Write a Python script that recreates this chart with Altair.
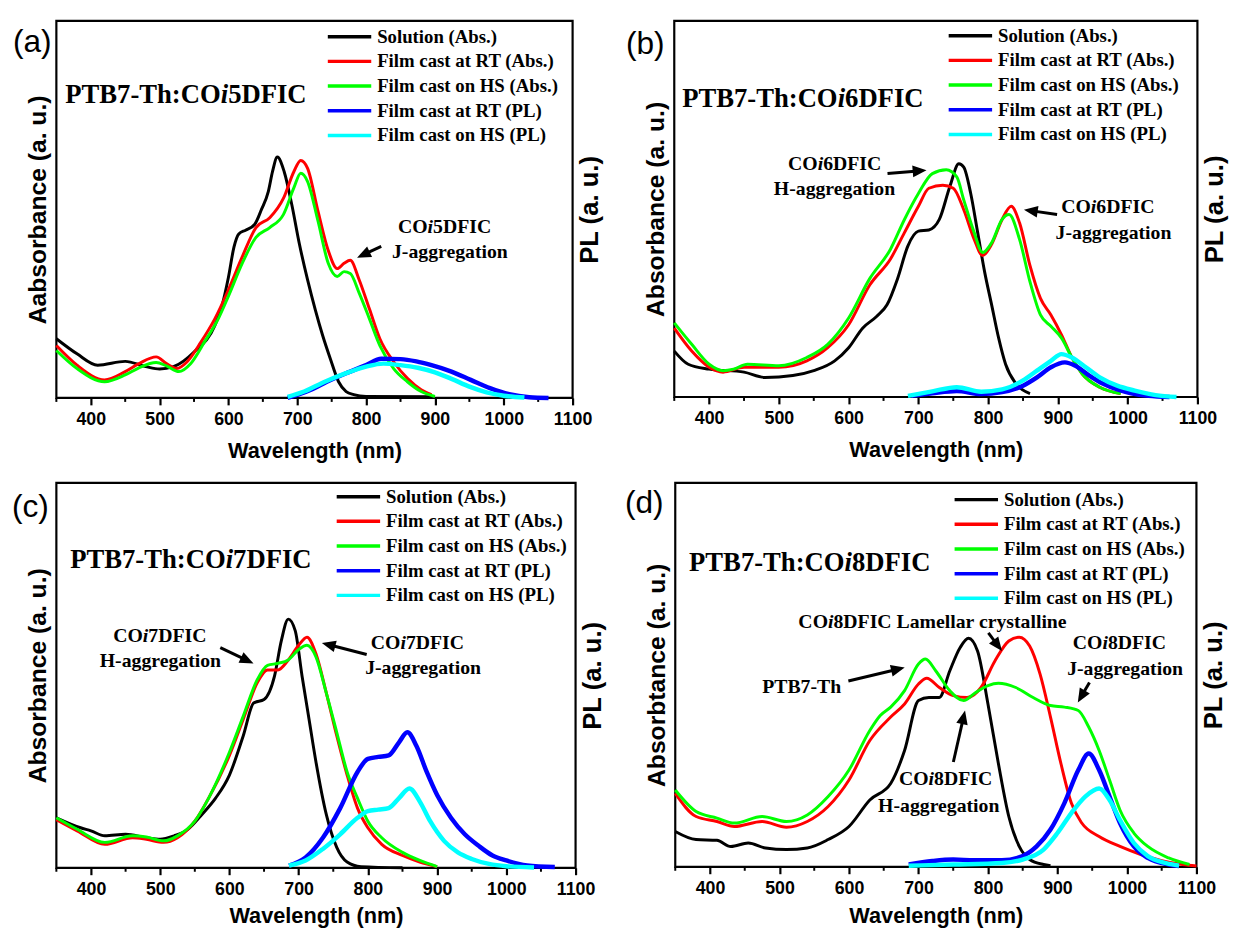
import math
import altair as alt
import pandas as pd

# ---------------- data ----------------
SERIES = ["Solution (Abs.)", "Film cast at RT (Abs.)", "Film cast on HS (Abs.)",
          "Film cast at RT (PL)", "Film cast on HS (PL)"]
COLORS = ["#000000", "#ff0000", "#00ff00", "#0000ff", "#00ffff"]
MAJOR_TICKS = [400, 500, 600, 700, 800, 900, 1000, 1100]
MINOR_TICKS = [350, 450, 550, 650, 750, 850, 950, 1050]

# panel (a)  (wavelength nm, relative intensity 0-100 of frame height)
A_SOLUTION = [(350, 15.7), (380, 11.7), (410, 8.7), (450, 9.7), (480, 8.3), (500, 7.7), (520, 8.3),
              (550, 12.2), (580, 19.1), (590, 24.0), (600, 32.0), (608, 40.0), (615, 43.5), (625, 44.5),
              (638, 46.0), (648, 50.0), (658, 54.8), (664, 60.0), (671, 63.9), (681, 60.0), (692, 51.3),
              (703, 40.9), (715, 31.3), (726, 23.5), (737, 16.5), (748, 10.4), (760, 4.3), (771, 1.7),
              (782, 0.9), (800, 0.4), (900, 0.3)]
A_FILM_RT = [(350, 13.9), (380, 8.7), (420, 4.8), (450, 7.0), (470, 9.1), (495, 10.9), (510, 9.1),
             (525, 7.8), (540, 9.6), (560, 14.8), (580, 20.9), (600, 28.7), (620, 37.4), (640, 45.2),
             (660, 47.8), (680, 53.0), (695, 60.0), (705, 63.0), (715, 60.9), (730, 49.6), (745, 39.1),
             (758, 34.3), (768, 35.7), (777, 36.5), (790, 31.3), (805, 23.5), (820, 15.7), (840, 9.6),
             (860, 5.2), (880, 2.2), (895, 0.9)]
A_FILM_HS = [(350, 12.6), (380, 7.8), (420, 4.3), (450, 6.1), (470, 8.0), (495, 9.4), (510, 8.5),
             (528, 7.0), (545, 9.1), (565, 14.8), (585, 20.9), (600, 27.0), (620, 35.7), (640, 42.6),
             (660, 45.2), (680, 48.7), (695, 55.7), (705, 59.6), (715, 57.4), (730, 47.0), (745, 35.7),
             (758, 32.2), (768, 33.5), (777, 33.0), (790, 27.8), (805, 20.9), (820, 13.9), (840, 7.8),
             (860, 4.3), (880, 1.7), (900, 0.4)]
A_PL_RT = [(686, 0.0), (700, 0.8), (720, 2.2), (743, 4.3), (770, 6.5), (800, 8.7), (822, 10.4),
           (850, 10.3), (873, 9.7), (895, 8.7), (924, 7.0), (952, 4.8), (980, 2.6), (1008, 1.0),
           (1037, 0.2), (1065, 0.0)]
A_PL_HS = [(686, 0.3), (710, 1.7), (740, 4.3), (770, 6.5), (800, 8.3), (825, 9.1), (850, 8.7),
           (875, 8.0), (900, 6.8), (925, 5.0), (950, 3.0), (975, 1.5), (1000, 0.6), (1030, 0.1)]

# panel (b)
B_SOLUTION = [(350, 12.2), (370, 8.7), (400, 7.4), (450, 6.6), (480, 5.2), (520, 5.7), (550, 7.0),
              (580, 9.6), (600, 13.1), (620, 18.3), (640, 21.4), (655, 24.5), (670, 31.4), (685, 40.2),
              (700, 44.1), (715, 44.4), (730, 47.2), (745, 55.9), (758, 62.0), (765, 61.1), (775, 54.1),
              (785, 43.7), (795, 33.2), (805, 24.5), (815, 15.7), (825, 8.7), (840, 3.5), (860, 0.9)]
B_FILM_RT = [(350, 18.3), (375, 12.2), (400, 7.9), (420, 6.6), (450, 7.9), (500, 7.9), (540, 9.6),
             (570, 13.1), (600, 19.2), (630, 29.7), (660, 36.7), (680, 43.7), (700, 50.7), (715, 55.5),
             (735, 56.3), (750, 55.5), (765, 49.8), (780, 41.9), (792, 37.6), (805, 40.6), (820, 47.2),
             (833, 50.7), (845, 46.3), (860, 34.9), (875, 26.2), (890, 21.8), (905, 16.6), (920, 10.5),
             (935, 6.1), (960, 2.6), (990, 0.9)]
B_FILM_HS = [(350, 19.7), (375, 14.0), (400, 8.7), (420, 7.0), (435, 7.4), (455, 8.7), (500, 8.3),
             (540, 10.5), (570, 14.0), (600, 21.0), (630, 31.4), (660, 39.3), (680, 47.2), (700, 54.1),
             (720, 59.4), (740, 60.4), (755, 58.5), (765, 52.4), (780, 43.7), (792, 38.4), (805, 41.0),
             (820, 47.2), (830, 48.5), (845, 41.9), (860, 30.6), (875, 21.8), (890, 18.8), (905, 15.7),
             (920, 10.5), (935, 6.1), (960, 2.6), (990, 0.9)]
B_PL_RT = [(690, 0.3), (720, 1.0), (755, 1.6), (790, 0.8), (820, 1.3), (850, 3.0), (870, 5.2),
           (890, 7.9), (910, 9.2), (925, 8.3), (945, 5.7), (965, 3.5), (985, 2.0), (1005, 1.0),
           (1030, 0.3), (1060, 0.0)]
B_PL_HS = [(685, 0.3), (720, 1.5), (755, 2.6), (790, 1.4), (820, 2.0), (850, 4.4), (870, 7.0),
           (890, 9.6), (905, 11.4), (920, 10.5), (940, 7.9), (960, 5.2), (985, 3.0), (1010, 1.7),
           (1040, 0.5), (1070, 0.0)]

# panel (c)
C_SOLUTION = [(350, 13.0), (385, 10.4), (400, 9.6), (420, 8.3), (450, 8.7), (480, 7.8), (500, 7.4),
              (520, 8.3), (540, 10.0), (560, 13.8), (580, 18.1), (600, 24.1), (620, 34.3), (635, 42.8),
              (650, 43.7), (665, 49.7), (675, 59.0), (685, 64.6), (695, 61.6), (705, 49.7), (715, 38.6),
              (725, 27.5), (740, 13.8), (755, 5.3), (770, 1.5), (790, 0.3), (850, 0.0)]
C_FILM_RT = [(350, 12.5), (380, 9.6), (420, 6.1), (460, 7.8), (480, 7.4), (505, 6.6), (525, 7.8),
             (550, 12.1), (570, 18.1), (600, 29.2), (620, 38.6), (640, 48.0), (655, 51.4), (670, 51.4),
             (685, 54.0), (700, 57.8), (712, 59.9), (725, 55.6), (740, 45.4), (755, 34.3), (770, 24.1),
             (785, 15.5), (800, 10.4), (820, 6.1), (850, 3.2), (875, 1.5), (900, 0.3)]
C_FILM_HS = [(350, 13.0), (380, 10.0), (420, 6.6), (460, 8.3), (480, 8.0), (505, 7.0), (525, 8.3),
             (550, 12.1), (570, 18.1), (600, 30.0), (620, 39.4), (640, 48.8), (655, 52.6), (670, 53.1),
             (685, 54.0), (700, 56.7), (712, 57.8), (725, 54.8), (740, 45.4), (755, 35.2), (770, 24.9),
             (785, 18.1), (800, 12.1), (820, 7.8), (850, 4.0), (875, 1.9), (900, 0.3)]
C_PL_RT = [(686, 0.6), (710, 2.7), (735, 7.8), (760, 15.5), (785, 24.9), (800, 28.3), (815, 28.8),
           (830, 29.2), (845, 32.6), (857, 35.2), (870, 31.7), (885, 24.9), (900, 18.9), (920, 13.0),
           (940, 8.7), (960, 5.7), (980, 3.2), (1000, 1.9), (1030, 0.6), (1070, 0.2)]
C_PL_HS = [(686, 0.6), (710, 1.9), (735, 4.9), (760, 8.7), (785, 13.0), (800, 14.7), (815, 15.1),
           (830, 15.5), (845, 18.1), (860, 20.6), (875, 17.2), (890, 12.1), (910, 7.0), (930, 4.0),
           (950, 2.3), (975, 1.0), (1000, 0.4), (1040, 0.1)]

# panel (d)
D_SOLUTION = [(350, 9.2), (380, 7.1), (410, 6.9), (430, 5.3), (455, 6.2), (480, 4.9), (510, 4.5),
              (540, 4.9), (570, 7.1), (600, 10.5), (630, 17.4), (660, 21.7), (680, 30.3), (700, 43.3),
              (715, 44.1), (730, 44.1), (745, 51.0), (760, 57.1), (772, 59.5), (785, 56.2), (800, 42.4),
              (815, 26.9), (830, 13.1), (845, 5.3), (860, 1.9), (880, 0.6), (890, 0.3)]
D_FILM_RT = [(350, 19.1), (380, 13.1), (410, 11.8), (435, 10.5), (475, 11.8), (510, 10.3), (540, 11.8),
             (570, 15.7), (600, 22.6), (630, 32.9), (660, 39.0), (680, 42.4), (700, 47.6), (712, 49.1),
             (730, 46.7), (750, 44.6), (770, 44.1), (790, 46.7), (810, 53.6), (830, 58.8), (845, 59.8),
             (860, 57.5), (875, 50.2), (890, 39.0), (905, 26.9), (920, 16.6), (935, 11.4), (960, 7.9),
             (990, 5.3), (1020, 3.2), (1050, 1.6), (1080, 0.6), (1100, 0.2)]
D_FILM_HS = [(350, 20.0), (380, 14.4), (410, 12.7), (435, 11.4), (475, 13.1), (510, 11.8), (540, 13.5),
             (570, 18.3), (600, 25.2), (630, 35.5), (645, 39.4), (660, 41.6), (680, 45.9), (700, 52.8),
             (710, 54.1), (725, 51.0), (745, 45.9), (765, 43.3), (780, 45.1), (800, 47.2), (815, 47.8),
             (840, 46.7), (865, 44.1), (890, 42.0), (910, 41.6), (930, 40.7), (945, 36.4), (960, 30.3),
             (975, 22.6), (990, 14.8), (1010, 8.8), (1030, 5.3), (1060, 2.3), (1090, 0.6)]
D_PL_RT = [(686, 0.6), (720, 1.5), (750, 1.9), (780, 1.7), (820, 1.7), (850, 2.8), (870, 5.3),
           (890, 9.7), (910, 16.6), (930, 25.2), (945, 29.5), (960, 25.2), (975, 18.3), (990, 11.4),
           (1010, 5.3), (1030, 2.3), (1060, 0.6), (1075, 0.2)]
D_PL_HS = [(686, 0.3), (750, 0.6), (820, 1.0), (850, 1.9), (880, 4.5), (900, 8.8), (920, 14.0),
           (940, 18.3), (960, 20.4), (975, 17.4), (990, 12.2), (1010, 6.2), (1030, 2.8), (1055, 1.0),
           (1075, 0.3)]

# ---------------- styling helpers ----------------
SANS = "Liberation Sans"
SERIF = "Liberation Serif"
X_MIN, X_MAX = 350, 1100

# Times-Bold advance widths (per 1000 em) used to butt italic / upright pieces together
TB = {' ': 250, '-': 333, ':': 333, '(': 333, ')': 333, '.': 250, '5': 500, '6': 500, '7': 500,
      '8': 500, 'A': 722, 'B': 667, 'C': 722, 'D': 722, 'F': 611, 'H': 778, 'I': 389, 'J': 500,
      'L': 667, 'O': 778, 'P': 611, 'T': 667, 'a': 500, 'c': 444, 'e': 444, 'g': 500, 'h': 556,
      'i': 278, 'l': 278, 'm': 833, 'n': 556, 'o': 500, 'r': 444, 's': 389, 't': 333, 'y': 500}


def tw(s, size):
    return sum(TB.get(ch, 500) for ch in s) / 1000.0 * size


def split_pieces(markup, size):
    """'CO*i*5DFIC' -> list of (offset_px, text, italic)"""
    out, x = [], 0.0
    for k, part in enumerate(markup.split('*')):
        lead = len(part) - len(part.lstrip(' '))
        x += tw(' ' * lead, size)
        body = part.lstrip(' ')
        if body:
            out.append((x, body, k % 2 == 1))
        x += tw(body, size)
    return out, x


def panel(W, H, ytitle, abs_curves, pl_curves, label, label_x, label_y, compound, title_x,
          title_base, legend_xy, annots, arrows, ytp=6, pltp=4, xtp=12):
    XS = alt.Scale(domain=[X_MIN, X_MAX], nice=False, zero=False)
    XAX = alt.Axis(title="Wavelength (nm)", values=MAJOR_TICKS, format="d", grid=False, domain=False,
                   tickSize=7, tickWidth=2.2, tickColor="black", labelFont=SANS, labelFontSize=18,
                   labelFontWeight="bold", labelColor="black", labelPadding=6, labelFlush=False,
                   labelOverlap=False, titleFont=SANS, titleFontSize=22, titleFontWeight="bold",
                   titleColor="black", titlePadding=xtp)
    YS = alt.Scale(domain=[0, 100], nice=False, zero=False)
    YAX = alt.Axis(title=ytitle, orient="left", labels=False, ticks=False, domain=False, grid=False,
                   minExtent=0, titleFont=SANS, titleFontSize=25, titleFontWeight="bold",
                   titleColor="black", titlePadding=ytp)
    PLAX = alt.Axis(title="PL (a. u.)", orient="right", labels=False, ticks=False, domain=False,
                    grid=False, minExtent=0, titleFont=SANS, titleFontSize=26, titleFontWeight="bold",
                    titleColor="black", titlePadding=pltp, titleAngle=270, titleBaseline="top")

    def X(f):
        return alt.X(f, type="quantitative", scale=XS, axis=XAX)

    def Y(f):
        return alt.Y(f, type="quantitative", scale=YS, axis=YAX)

    legend = alt.Legend(title=None, orient="none", legendX=legend_xy[0], legendY=legend_xy[1],
                        symbolType="stroke", symbolSize=44 * 44, symbolStrokeWidth=3.5,
                        clipHeight=25, rowPadding=0, padding=0, labelFont=SERIF, labelFontSize=19,
                        labelFontWeight="bold", labelColor="black", labelOffset=4, labelLimit=0)
    color = alt.Color("series:N", scale=alt.Scale(domain=SERIES, range=COLORS), legend=legend)

    abs_rows = [dict(wl=w, v=v, series=SERIES[i]) for i, pts in enumerate(abs_curves) for (w, v) in pts]
    pl_rows = [dict(wl=w, v=v, series=SERIES[3 + i]) for i, pts in enumerate(pl_curves) for (w, v) in pts]

    abs_lines = alt.Chart(pd.DataFrame(abs_rows)).mark_line(strokeWidth=3, interpolate="monotone").encode(
        x=X("wl"), y=Y("v"), color=color)

    minor = alt.Chart(pd.DataFrame({"wl": MINOR_TICKS})).mark_rule(color="black", strokeWidth=2).encode(
        x=X("wl"), y=alt.value(H), y2=alt.value(H + 4))

    # arrows
    pxn, pxv = W / 750.0, H / 100.0
    head_len = 14.0
    arr_rows = []
    for (x0, y0, x1, y1) in arrows:
        dx, dy = (x1 - x0) * pxn, -(y1 - y0) * pxv
        L = math.hypot(dx, dy)
        f = max(0.0, 1 - 0.6 * head_len / L)
        ang = math.degrees(math.atan2(dx, -dy)) % 360
        arr_rows.append(dict(x0=x0, y0=y0, xs=x0 + (x1 - x0) * f, ys=y0 + (y1 - y0) * f,
                             x1=x1, y1=y1, ang=ang))
    arr_df = pd.DataFrame(arr_rows)
    shafts = alt.Chart(arr_df).mark_rule(color="black", strokeWidth=3).encode(
        x=X("x0"), x2="xs:Q", y=Y("y0"), y2="ys:Q")
    heads = alt.Chart(arr_df).mark_point(shape="M0,0L0.42,1L-0.42,1Z", filled=True, color="black",
                                         opacity=1, strokeWidth=0, size=(2 * head_len) ** 2).encode(
        x=X("x1"), y=Y("y1"), angle=alt.Angle("ang:Q", scale=None))

    # annotation text (data coordinates, centred)
    ann_rows = []
    for (markup, cx, cy) in annots:
        pieces, total = split_pieces(markup, 20)
        for (off, txt, it) in pieces:
            ann_rows.append(dict(wl=cx + (off - total / 2) / pxn, v=cy, text=txt, italic=it))
    ann_df = pd.DataFrame(ann_rows)
    ann_up = alt.Chart(ann_df[~ann_df.italic]).mark_text(
        font=SERIF, fontSize=20, fontWeight="bold", align="left", baseline="middle", color="black").encode(
        x=X("wl"), y=Y("v"), text="text:N")
    ann_it = alt.Chart(ann_df[ann_df.italic]).mark_text(
        font=SERIF, fontSize=20, fontWeight="bold", fontStyle="italic", align="left", baseline="middle",
        color="black").encode(x=X("wl"), y=Y("v"), text="text:N")

    # compound name + panel letter
    extras = []
    pieces, _ = split_pieces(compound, 27)
    for (off, txt, it) in pieces:
        mk = dict(font=SERIF, fontSize=27, fontWeight="bold", align="left", baseline="alphabetic",
                  color="black")
        if it:
            mk["fontStyle"] = "italic"
        extras.append(alt.Chart(pd.DataFrame({"t": [txt]})).mark_text(**mk).encode(
            text="t:N", x=alt.value(title_x + off), y=alt.value(title_base)))
    extras.append(alt.Chart(pd.DataFrame({"t": [label]})).mark_text(
        font=SANS, fontSize=32, align="left", baseline="top", color="black").encode(
        text="t:N", x=alt.value(label_x), y=alt.value(label_y)))

    inner = alt.layer(abs_lines, minor, shafts, heads, ann_up, ann_it, *extras)

    pl_lines = alt.Chart(pd.DataFrame(pl_rows)).mark_line(strokeWidth=4.5, interpolate="monotone").encode(
        x=X("wl"), y=alt.Y("v", type="quantitative", scale=YS, axis=PLAX), color=color)

    return alt.layer(inner, pl_lines).resolve_scale(y="independent").properties(width=W, height=H)


pa = panel(523, 382, "Aabsorbance (a. u.)", [A_SOLUTION, A_FILM_RT, A_FILM_HS], [A_PL_RT, A_PL_HS],
           "(a)", -44, 7, "PTB7-Th:CO*i*5DFIC", 9, 83, (273, 3.5),
           [("CO*i*5DFIC", 914, 45.4), ("J-aggregation", 922, 38.6)],
           [(822, 40.2, 786.9, 37.2)])
pb = panel(530, 381, "Absorbance (a. u.)", [B_SOLUTION, B_FILM_RT, B_FILM_HS], [B_PL_RT, B_PL_HS],
           "(b)", -49, 9, "PTB7-Th:CO*i*6DFIC", 8, 87, (276, 2.5),
           [("CO*i*6DFIC", 580, 62.0), ("H-aggregation", 580, 55.2),
            ("CO*i*6DFIC", 971.5, 50.4), ("J-aggregation", 980, 43.7)],
           [(655.7, 59.4, 711.6, 60.3), (898.8, 48.5, 851.3, 49.8)])
pc = panel(526, 390, "Absorbance (a. u.)", [C_SOLUTION, C_FILM_RT, C_FILM_HS], [C_PL_RT, C_PL_HS],
           "(c)", -45, 10, "PTB7-Th:CO*i*7DFIC", 14, 86, (282, 1.5),
           [("CO*i*7DFIC", 499.4, 60.3), ("H-aggregation", 500.6, 53.8),
            ("CO*i*7DFIC", 871.6, 58.4), ("J-aggregation", 880, 52.0)],
           [(586.8, 57.2, 634.8, 53.1), (798.3, 55.4, 733.5, 58.4)], xtp=7)
pd_ = panel(528, 389, "Absorbtance (a. u.)", [D_SOLUTION, D_FILM_RT, D_FILM_HS], [D_PL_RT, D_PL_HS],
            "(d)", -51, 6, "PTB7-Th:CO*i*8DFIC", 14, 89, (281, 4.5),
            [("CO*i*8DFIC Lamellar crystalline", 720.5, 63.8), ("CO*i*8DFIC", 989.2, 58.2),
             ("J-aggregation", 997.6, 51.5), ("PTB7-Th", 531.9, 46.7),
             ("CO*i*8DFIC", 739, 22.8), ("H-aggregation", 729.5, 15.9)],
            [(800.6, 60.9, 820.1, 56.2), (946.1, 48.0, 929.3, 42.8), (599.1, 48.4, 680.2, 51.9),
             (750.2, 27.3, 767, 40.7)], xtp=8)

row1 = alt.hconcat(pa, pb, spacing=20).resolve_scale(color="independent")
row2 = alt.hconcat(pc, pd_, spacing=16).resolve_scale(color="independent")
chart = alt.vconcat(row1, row2, spacing=18).resolve_scale(color="independent").properties(
    padding={"left": 2, "top": 5, "right": 0, "bottom": 0}, background="white"
).configure_view(stroke="black", strokeWidth=2.2)

chart.save("out.html", embed_options={"renderer": "svg", "actions": False})
